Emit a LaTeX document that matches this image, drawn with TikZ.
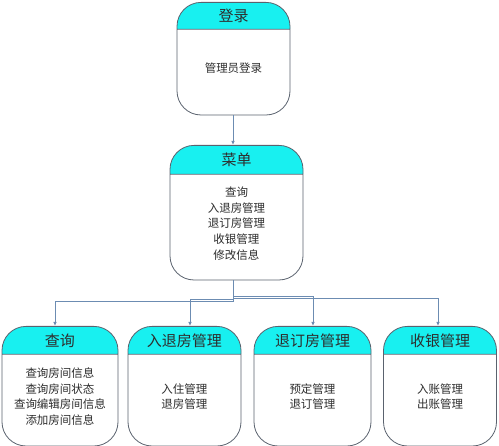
\documentclass[tikz,border=0pt]{standalone}
\usepackage{fontspec}
\newfontfamily\cjk{Noto Sans CJK SC}
\usetikzlibrary{shapes.multipart,arrows.meta}

\definecolor{headcyan}{RGB}{24,240,240}
\definecolor{edgegrey}{RGB}{90,98,110}
\definecolor{linkblue}{RGB}{108,140,178}
\definecolor{textgrey}{RGB}{45,45,45}

% width, header height, header text, body height, body text
\newcommand{\panel}[5]{%
  \parbox[c][#2][c]{#1}{\centering\fontsize{15}{18}\selectfont #3}%
  \nodepart{two}%
  \parbox[c][#4][c]{#1}{\centering\fontsize{11.5}{15.6}\selectfont #5\par\kern7pt}}

\begin{document}
\begin{tikzpicture}
  [x=1pt,y=-1pt,
   every node/.style={rectangle split,rectangle split parts=2,draw=edgegrey,
     line width=.8pt,rounded corners=24pt,inner sep=0pt,anchor=north,
     rectangle split part fill={headcyan,white},text=textgrey,font=\cjk},
   link/.style={linkblue,line width=.8pt,-{Latex[length=4pt,width=3.5pt]}}]
  \useasboundingbox (0,0) rectangle (499,446);

  \node (login) at (233.5,2)  {\panel{113pt}{26pt}{登录}{85pt}{管理员登录}};
  \node (menu) at (236.5,145) {\panel{133pt}{28pt}{菜单}{105pt}{查询\\入退房管理\\退订房管理\\收银管理\\修改信息}};

  \node (query) at (60,326)   {\panel{116pt}{27pt}{查询}{91pt}{查询房间信息\\查询房间状态\\查询编辑房间信息\\添加房间信息}};
  \node (inout) at (184.5,326) {\panel{113pt}{27pt}{入退房管理}{91pt}{入住管理\\退房管理}};
  \node (book) at (312.5,326) {\panel{117pt}{27pt}{退订房管理}{91pt}{预定管理\\退订管理}};
  \node (cash) at (440,326)   {\panel{113pt}{27pt}{收银管理}{91pt}{入账管理\\出账管理}};

  \draw [link] ([xshift=-.5pt]login.south) -- ([xshift=-3.5pt]menu.north);

  \foreach \to/\dy/\dx in {query/21/-5, inout/19/5.5, book/16/0.5, cash/18/-2}
    \draw [link] ([xshift=-3.5pt]menu.south) -- ++(0,\dy) -| ([xshift=\dx pt]\to.north);

\end{tikzpicture}
\end{document}
